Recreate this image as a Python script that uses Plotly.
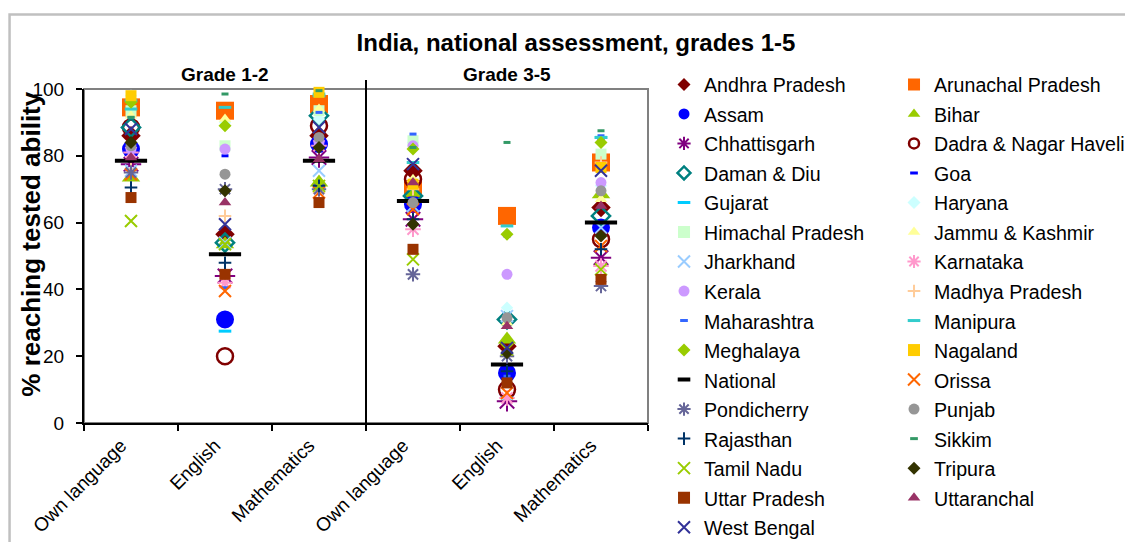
"""
India national assessment: share of pupils reaching tested ability,
by state, subject and grade group (Excel-style marker chart).
"""

import plotly.graph_objects as go

FONT = "Arial, 'Liberation Sans', sans-serif"

grades = ["Grade 1-2", "Grade 3-5"]
subjects = ["Own language", "English", "Mathematics"]

states = [
    "Andhra Pradesh", "Arunachal Pradesh", "Assam", "Bihar", "Chhattisgarh",
    "Dadra & Nagar Haveli", "Daman & Diu", "Goa", "Gujarat", "Haryana",
    "Himachal Pradesh", "Jammu & Kashmir", "Jharkhand", "Karnataka", "Kerala",
    "Madhya Pradesh", "Maharashtra", "Manipura", "Meghalaya", "Nagaland",
    "National", "Orissa", "Pondicherry", "Punjab", "Rajasthan",
    "Sikkim", "Tamil Nadu", "Tripura", "Uttar Pradesh", "Uttaranchal",
    "West Bengal",
]

# one list per category, aligned with `states`
g12_own = [86, 94.5, 82, 73.5, 77.5, 88.5, 88.5, 92.5, 96.5, 98,
           93.5, 92, 75.5, 81, 82, 76, 91.5, 94, 96, 98,
           78.5, 74.5, 75, 83, 70.5, 91.5, 60.5, 84, 67.5, 79.5, 88]
g12_english = [56.5, 93.5, 31, 53.5, 44, 20, 54, 80, 27.5, 90,
               83, 91, 54, 42, 82, 62, 40.5, 94.5, 89, None,
               50.5, 39.5, 70, 74.5, 48, 98.5, 53.5, 69.5, 44.5, 66, 59.5]
g12_math = [86, 95.5, 83.5, 72, 79.5, 89, 92, 94, 98, 91,
            93.5, 94, 75.5, 83, 84, 69, 93, 98.5, 71, 99,
            78.5, 69, 70, 85.5, 71, 99.5, 71, 82.5, 66, 79, 88.5]
g35_own = [75.5, 70, 65.5, 69, 61, 73, 68, 85.5, 66, 84,
           84.5, 73, 65, 58, 83, 70, 86.5, 78, 82, 71.5,
           66.5, 64, 44.5, 66, 61, 82.5, 49, 59.5, 52, 72, 77.5]
g35_english = [23, 62, 15, 25, 6.5, 10, 31, 56, 7.5, 34.5,
               None, 30, 32, 7.5, 44.5, 20, 14, 59, 56.5, None,
               17.5, 9, 20, 31.5, 15.5, 84, 22, 21, 12, 29, 22.5]
g35_math = [64.5, 78, 58.5, 68.5, 49.5, 55, 62, 85, 85.5, 71,
            80.5, 67, 58.5, 47, 72, 78, 86, 85.5, 84, 76.5,
            60, 53, 41, 69.5, 52, 87.5, 46, 56, 43, 65, 75.5]

columns = [g12_own, g12_english, g12_math, g35_own, g35_english, g35_math]

# marker look per state: symbol, colour, size in plot, size in legend, line width
styles = {
    "Andhra Pradesh": ("diamond", "#800000", 15, 10, 0),
    "Arunachal Pradesh": ("square", "#FF6600", 18, 12, 0),
    "Assam": ("circle", "#0000FF", 18, 11, 0),
    "Bihar": ("triangle-up", "#99CC00", 16, 11, 0),
    "Chhattisgarh": ("asterisk-open", "#800080", 17, 11, 2),
    "Dadra & Nagar Haveli": ("circle-open", "#800000", 16, 10, 2.5),
    "Daman & Diu": ("diamond-open", "#008080", 14, 10, 2.5),
    "Goa": ("line-ew-open", "#0000FF", 5, 5.5, 3),
    "Gujarat": ("line-ew-open", "#00CCFF", 9, 9, 3),
    "Haryana": ("diamond", "#CCFFFF", 9.5, 10, 0),
    "Himachal Pradesh": ("square", "#CCFFCC", 11, 12, 0),
    "Jammu & Kashmir": ("triangle-up", "#FFFF99", 11, 11, 0),
    "Jharkhand": ("x-thin-open", "#99CCFF", 12, 12, 2),
    "Karnataka": ("asterisk-open", "#FF99CC", 13, 11, 2),
    "Kerala": ("circle", "#CC99FF", 11, 11, 0),
    "Madhya Pradesh": ("cross-thin-open", "#FFCC99", 9, 9, 2),
    "Maharashtra": ("line-ew-open", "#3366FF", 5, 5.5, 3),
    "Manipura": ("line-ew-open", "#33CCCC", 9, 9, 3),
    "Meghalaya": ("diamond", "#99CC00", 10, 10, 0),
    "Nagaland": ("square", "#FFCC00", 11, 12, 0),
    "National": ("line-ew-open", "#000000", 23, 9, 4),
    "Orissa": ("x-thin-open", "#FF6600", 12, 12, 2),
    "Pondicherry": ("asterisk-open", "#666699", 12, 11, 2),
    "Punjab": ("circle", "#969696", 11, 11, 0),
    "Rajasthan": ("cross-thin-open", "#003366", 9, 9, 2),
    "Sikkim": ("line-ew-open", "#339966", 5, 5.5, 3),
    "Tamil Nadu": ("x-thin-open", "#99CC00", 12, 12, 2),
    "Tripura": ("diamond", "#333300", 10, 10, 0),
    "Uttar Pradesh": ("square", "#993300", 11, 12, 0),
    "Uttaranchal": ("triangle-up", "#993366", 11, 11, 0),
    "West Bengal": ("x-thin-open", "#333399", 12, 12, 2),
}

x_pos = list(range(len(columns)))
tick_text = subjects * len(grades)
boundaries = [i - 0.5 for i in range(len(columns) + 1)]

fig = go.Figure()

for i, state in enumerate(states):
    symbol, color, size, legend_size, lw = styles[state]
    ys = [col[i] for col in columns]

    # plotted markers
    fig.add_trace(go.Scatter(
        x=x_pos, y=ys, mode="markers", name=state, legendgroup=state,
        showlegend=False, cliponaxis=False,
        marker=dict(symbol=symbol, color=color, size=size,
                    line=dict(color=color, width=lw)),
    ))
    # legend entry (smaller markers, as in the source chart);
    # row pitch comes from legend font size, text drawn a bit smaller
    fig.add_trace(go.Scatter(
        x=[None], y=[None], mode="markers", legendgroup=state,
        name=f'<span style="font-size:19.6px">{state}</span>',
        marker=dict(symbol=symbol, color=color, size=legend_size,
                    line=dict(color=color, width=lw)),
    ))

# grade group headers and divider
n_sub = len(subjects)
for g, grade in enumerate(grades):
    fig.add_annotation(
        x=g * n_sub + (n_sub - 1) / 2, xref="x", y=1.042, yref="paper",
        text=grade, showarrow=False, yanchor="middle",
        font=dict(family=FONT, size=19, color="black", weight="bold"),
    )
for g in range(1, len(grades)):
    fig.add_shape(type="line", xref="x", yref="paper",
                  x0=g * n_sub - 0.5, x1=g * n_sub - 0.5, y0=0, y1=1.027,
                  line=dict(color="black", width=2))

# plot area border (grey) and outer chart border
fig.add_shape(type="rect", xref="paper", yref="paper", x0=0, x1=1, y0=0, y1=1,
              line=dict(color="#808080", width=2), layer="below")
fig.add_shape(type="rect", xref="paper", yref="paper",
              x0=-0.132, x1=1.95, y0=-0.5, y1=1.223,
              line=dict(color="#C0C0C0", width=2.5), layer="below")

fig.add_annotation(
    x=-0.094, xref="paper", y=0.537, yref="paper", textangle=-90,
    text="% reaching tested ability", showarrow=False,
    xanchor="center", yanchor="middle",
    font=dict(family=FONT, size=26, color="black", weight="bold"),
)

fig.update_layout(
    width=1117, height=534,
    margin=dict(l=76, r=477, t=81, b=119, autoexpand=False),
    paper_bgcolor="white", plot_bgcolor="white",
    font=dict(family=FONT, color="black"),
    title=dict(text="India, national assessment, grades 1-5",
               x=0.5085, xanchor="center", y=0.9345, yanchor="middle",
               font=dict(family=FONT, size=24, color="black", weight="bold")),
    legend=dict(orientation="h", x=1.0284, xanchor="left", y=1.073, yanchor="top",
                entrywidth=185, entrywidthmode="pixels", itemsizing="trace",
                font=dict(family=FONT, size=20.4, color="black"),
                bgcolor="rgba(0,0,0,0)", maxheight=525, traceorder="normal"),
    showlegend=True,
)

fig.update_xaxes(
    range=[-0.5, len(columns) - 0.5], tickmode="array", tickvals=x_pos,
    ticktext=tick_text, tickangle=-45, ticks="", showgrid=False, zeroline=False,
    showline=True, linecolor="black", linewidth=2,
    ticklabelshift=-10, ticklabelstandoff=2,
    tickfont=dict(family=FONT, size=19, color="black"),
    minor=dict(tickmode="array", tickvals=boundaries, ticks="outside",
               ticklen=6, tickwidth=2, tickcolor="black", showgrid=False),
)
fig.update_yaxes(
    range=[0, 100], tickmode="linear", tick0=0, dtick=20, ticks="outside",
    ticklen=6, tickwidth=2, tickcolor="black", showgrid=False, zeroline=False,
    showline=True, linecolor="black", linewidth=2, ticklabelstandoff=8,
    tickfont=dict(family=FONT, size=19, color="black"),
)

fig.write_html("out.html")
